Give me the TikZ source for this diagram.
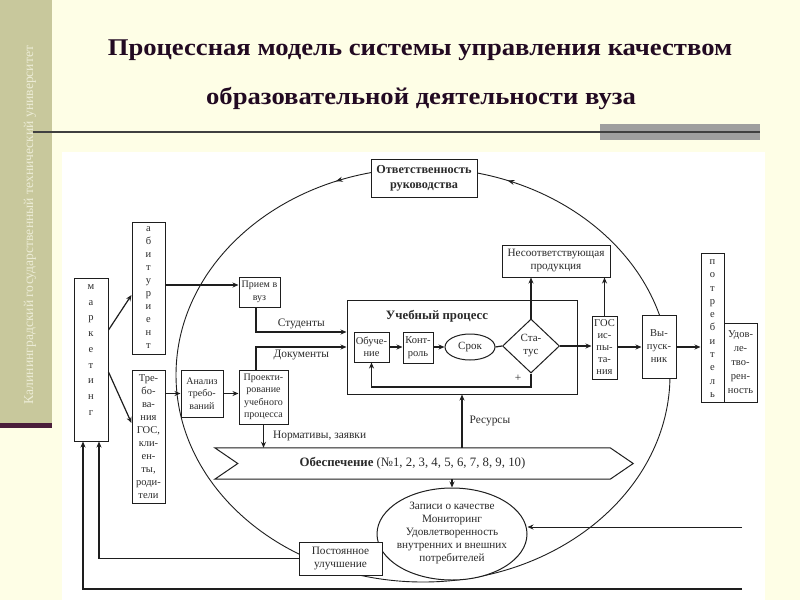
\documentclass[tikz,border=0pt]{standalone}
\usepackage{fontspec}
\setmainfont{Liberation Serif}
\usetikzlibrary{arrows.meta,shapes.geometric,decorations.markings,calc}
\definecolor{slidebg}{HTML}{FEFEE6}
\definecolor{band}{HTML}{C8C89C}
\definecolor{bandline}{HTML}{4A1E3A}
\definecolor{bandtext}{HTML}{ECECD6}
\definecolor{titlec}{HTML}{220A22}
\definecolor{lc}{HTML}{1E1E1E}
\definecolor{tc}{HTML}{2A2A2A}
\newcommand\dfont{\fontsize{10}{12.5}\selectfont}
\newcommand\lfont{\fontsize{11.4}{13}\selectfont}
\tikzset{
  box/.style={draw=lc, line width=1pt, fill=white, inner sep=0pt, align=center, font=\dfont, text=tc},
  arr/.style={draw=lc, line width=1.2pt, -{Stealth[length=6pt,width=5pt]}},
  ln/.style={draw=lc, line width=1.2pt},
  lbl/.style={font=\lfont, text=tc, inner sep=1pt},
  vlet/.style={font=\dfont, text=tc, inner sep=0pt, align=center},
}
\begin{document}
\begin{tikzpicture}[x=1pt,y=-1pt]
\useasboundingbox (0,0) rectangle (800,600);
% slide background
\fill[slidebg] (0,0) rectangle (800,600);
\fill[band] (0,0) rectangle (52,424);
\fill[bandline] (0,423) rectangle (52,428);
\node[rotate=90, text=bandtext, font=\fontsize{13.6}{15}\selectfont] (bandtxt) at (30,225) {Калининградский государственный технический университет};
% title
\node[font=\fontsize{24}{28}\bfseries\selectfont, text=titlec] (title1) at (420,50) {\scalebox{1.11}[1]{Процессная модель системы управления качеством}};
\node[font=\fontsize{24}{28}\bfseries\selectfont, text=titlec] (title2) at (421,98) {\scalebox{1.11}[1]{образовательной деятельности вуза}};
\fill[gray!75] (600,124) rectangle (760,140);
\draw[line width=2pt, draw=black!75] (33,132) -- (760,132);
% white diagram area
\fill[white] (62,152) rectangle (765,600);

% big ellipse loop
\draw[draw=lc, line width=0.9pt,
  postaction={decorate, decoration={markings,
    mark=at position 0.19 with {\arrow{Stealth[length=7pt,width=5pt]}},
    mark=at position 0.312 with {\arrow{Stealth[length=7pt,width=5pt]}}}}]
  (670,375) arc[start angle=0, end angle=-360, x radius=247, y radius=207];

% nodes
\node[box, font=\fontsize{12.2}{15}\bfseries\selectfont, minimum width=106pt, minimum height=38pt] (otv) at (424,178.5) {Ответственность\\руководства};
\node[box, minimum width=34pt, minimum height=163pt] (mark) at (91,359.5) {};
\node[vlet, font=\fontsize{10.5}{15.75}\selectfont] (marktxt) at (91,350) {м\\а\\р\\к\\е\\т\\и\\н\\г};
\node[box, minimum width=33pt, minimum height=132pt] (abit) at (148.5,288) {};
\node[vlet, font=\fontsize{10.5}{13}\selectfont] (abittxt) at (148.5,288) {а\\б\\и\\т\\у\\р\\и\\е\\н\\т};
\node[box, minimum width=41pt, minimum height=30pt] (priem) at (259.5,292) {Прием в\\вуз};
\node[box, minimum width=33pt, minimum height=133pt, font=\fontsize{10.5}{13}\selectfont] (treb) at (148.5,436.5) {Тре-\\бо-\\ва-\\ния\\ГОС,\\кли-\\ен-\\ты,\\роди-\\тели};
\node[box, minimum width=42pt, minimum height=47pt] (anal) at (202,393.5) {Анализ\\требо-\\ваний};
\node[box, minimum width=49pt, minimum height=54pt] (proekt) at (263.5,397) {Проекти-\\рование\\учебного\\процесса};
\node[box, minimum width=230pt, minimum height=94pt] (ucheb) at (462,347) {};
\node[lbl, font=\fontsize{12.8}{14}\bfseries\selectfont] (uchebt) at (437,316) {Учебный процесс};
\node[box, font=\fontsize{10.5}{12.5}\selectfont, minimum width=35pt, minimum height=30pt] (obuch) at (371.5,347) {Обуче-\\ние};
\node[box, font=\fontsize{10.5}{12.5}\selectfont, minimum width=30pt, minimum height=31pt] (kontr) at (418,347.5) {Конт-\\роль};
\node[box, ellipse, font=\fontsize{11}{12.5}\selectfont, minimum width=50pt, minimum height=26pt] (srok) at (470,347) {Срок};
\node[box, diamond, font=\fontsize{11}{13}\selectfont, minimum width=57pt, minimum height=54pt] (status) at (531,346) {Ста-\\тус};
\node[lbl] (plus) at (518,378) {+};
\node[box, font=\fontsize{11.2}{13}\selectfont, minimum width=108pt, minimum height=32pt] (nesoot) at (556,261) {Несоответствующая\\продукция};
\node[box, minimum width=25pt, minimum height=63pt, font=\fontsize{10.5}{12}\selectfont] (gos) at (604.5,347.5) {ГОС\\ис-\\пы-\\та-\\ния};
\node[box, font=\fontsize{10.5}{13}\selectfont, minimum width=34pt, minimum height=63pt] (vyp) at (659,346.5) {Вы-\\пуск-\\ник};
\node[box, minimum width=23pt, minimum height=149pt] (potr) at (712.5,327.5) {};
\node[vlet, font=\fontsize{10.5}{13.3}\selectfont] (potrtxt) at (712.5,328.5) {п\\о\\т\\р\\е\\б\\и\\т\\е\\л\\ь};
\node[box, minimum width=33pt, minimum height=79pt, font=\fontsize{10.5}{14}\selectfont] (udov) at (740.5,362.5) {Удов-\\ле-\\тво-\\рен-\\ность};
\node[box, ellipse, minimum width=150pt, minimum height=92pt] (zapisi) at (452,534) {};
\node[vlet, font=\fontsize{11.2}{13}\selectfont] (zapisitxt) at (452,533) {Записи о качестве\\Мониторинг\\Удовлетворенность\\внутренних и внешних\\потребителей};
\node[box, font=\fontsize{11.3}{13}\selectfont, minimum width=83pt, minimum height=33pt] (postoyan) at (340.5,558.5) {Постоянное\\улучшение};
% Obespechenie banner
\node[lbl, minimum width=395pt, minimum height=31pt, inner sep=0pt, font=\fontsize{12.8}{14}\selectfont] (obesp) at (412.5,463.5) {\textbf{Обеспечение} (№1, 2, 3, 4, 5, 6, 7, 8, 9, 10)};
\draw[draw=lc, line width=1pt] (obesp.north west) -- (obesp.north east) -- ($(obesp.east)+(23,0)$) -- (obesp.south east) -- (obesp.south west) -- ($(obesp.west)+(23,0)$) -- cycle;

\coordinate (rin) at (742,527);
\coordinate (bin) at (742,589);

% connectors
\draw[arr] (mark.east |- 0,330) -- (abit.west |- 0,295);
\draw[arr] (mark.east |- 0,372) -- (treb.west |- 0,423);
\draw[arr] (abit.east |- 0,285) -- (priem.west |- 0,285);
\draw[arr] (priem.south -| 256,0) |- (ucheb.west |- 0,332) node[lbl, pos=0.75, above=1pt] {Студенты};
\draw[arr] (proekt.north -| 256,0) |- (ucheb.west |- 0,347) node[lbl, pos=0.75, below=1pt] {Документы};
\draw[arr] (treb.east |- anal.west) -- (anal.west);
\draw[arr] (anal.east) -- (proekt.west |- anal.east);
\draw[arr] (obuch.east) -- (kontr.west |- obuch.east);
\draw[arr] (kontr.east |- srok.west) -- (srok.west);
\draw[ln] (srok.east) -- (status.west);
\draw[arr] (status.east) -- (gos.west |- status.east);
\draw[arr] (status.north) -- (nesoot.south -| status.north);
\draw[arr] (gos.north) -- (gos.north |- nesoot.south);
\draw[arr] (gos.east |- 0,347) -- (vyp.west |- 0,347);
\draw[arr] (vyp.east |- 0,347) -- (potr.west |- 0,347);
\draw[arr] (status.south) -- (status.south |- 0,387) -| (obuch.south);
\draw[arr] (proekt.south) -- (proekt.south |- obesp.north) node[lbl, midway, right=8pt] {Нормативы, заявки};
\draw[arr] (ucheb.south |- obesp.north) -- (ucheb.south) node[lbl, midway, right=6pt] {Ресурсы};
\draw[arr] (zapisi.north |- obesp.south) -- (zapisi.north);
\draw[arr, line width=1pt] (rin) -- (zapisi.east |- rin);
\draw[arr] (bin) -| (mark.south -| 83,0);
\draw[arr] (postoyan.west) -| (mark.south -| 99,0);
\end{tikzpicture}
\end{document}
